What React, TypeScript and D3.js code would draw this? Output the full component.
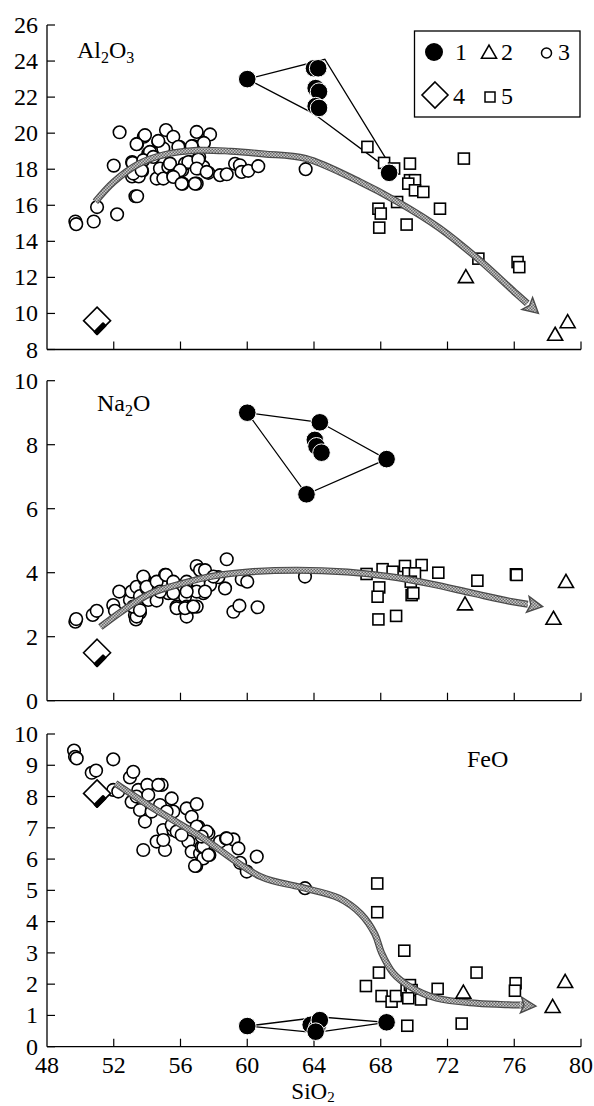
import React from "react";
import * as d3 from "d3";

type P = [number, number];

// ---------- X axis ----------
const X_TICKS = [48, 52, 56, 60, 64, 68, 72, 76, 80];

// ---------- Al2O3 panel ----------
const al_s1: P[] = [[60, 23], [64.0, 23.6], [64.25, 23.6], [64.1, 22.5], [64.3, 22.3], [64.1, 21.5], [64.3, 21.4], [68.5, 17.8]];
const al_hull: P[] = [[60, 23], [64.65, 24.1], [68.9, 17.7], [63.95, 21.1]];
const al_s2: P[] = [[73.1, 12.0], [78.45, 8.8], [79.2, 9.5]];
const al_s3: P[] = [
  [49.7, 15.1], [49.75, 14.95], [50.8, 15.1], [51.0, 15.9], [52.2, 15.5], [52.0, 18.2], [52.35, 20.05],
  [53.3, 16.5], [53.4, 16.5], [53.1, 17.6], [53.1, 18.4], [53.4, 19.4], [53.8, 19.8], [53.7, 17.9],
  [53.5, 17.6], [54.07, 18.87], [54.57, 17.48], [54.77, 18.04], [54.67, 19.52], [54.97, 17.48],
  [55.13, 20.17], [54.97, 19.15], [55.27, 18.13], [55.57, 19.8], [55.57, 17.67], [55.93, 19.24],
  [56.13, 17.2], [56.1, 17.94], [56.27, 18.31], [56.57, 18.4], [56.77, 19.28], [56.97, 20.07],
  [57.12, 18.68], [56.97, 17.2], [57.07, 18.04], [57.37, 19.43], [57.37, 18.13], [57.67, 17.8],
  [57.77, 19.93], [58.37, 17.67], [58.77, 17.72], [59.27, 18.3], [59.56, 18.22], [59.66, 17.85],
  [60.06, 17.91], [60.66, 18.17], [53.87, 19.89], [53.37, 19.39], [54.67, 19.57], [57.4, 19.46],
  [54.17, 18.96], [55.87, 19.24], [56.67, 19.28], [53.13, 18.35], [53.77, 18.5], [54.37, 18.68],
  [55.37, 18.31], [56.47, 18.4], [57.07, 18.54], [53.17, 17.76], [53.67, 17.94], [55.97, 17.94],
  [56.97, 18.04], [57.57, 17.85], [55.57, 17.57], [56.07, 17.2], [56.87, 17.2], [63.5, 18.0]
];
const al_s4: P[] = [[51.0, 9.6]];
const al_s5: P[] = [
  [67.2, 19.24], [68.2, 18.35], [68.8, 18.04], [69.75, 18.31], [72.98, 18.59], [69.75, 17.39],
  [70.05, 17.39], [69.65, 17.2], [70.05, 16.83], [70.55, 16.74], [68.98, 16.18], [71.55, 15.81],
  [67.86, 15.81], [68.0, 15.54], [67.91, 14.76], [69.55, 14.93], [73.85, 13.04], [76.2, 12.85], [76.3, 12.57]
];
const al_trend: P[] = [
  [50.9, 16.2], [52, 17.3], [53.5, 18.3], [55, 18.8], [57, 19.05], [59, 19.0], [61, 18.85], [63.5, 18.6],
  [66.75, 17.3], [69, 16.2], [71.5, 14.75], [73.8, 13.05], [76.0, 11.2], [77.45, 10.0]
];

// ---------- Na2O panel ----------
const na_s1: P[] = [[60, 9.0], [64.35, 8.7], [64.05, 8.15], [64.15, 7.95], [64.45, 7.75], [68.35, 7.55], [63.55, 6.45]];
const na_hull: P[] = [[60, 9.0], [64.35, 8.7], [68.35, 7.55], [63.55, 6.45]];
const na_s2: P[] = [[73.05, 3.0], [78.35, 2.55], [79.1, 3.7]];
const na_s3: P[] = [
  [49.7, 2.47], [49.75, 2.55], [50.74, 2.68], [50.98, 2.81], [51.97, 2.99], [52.07, 2.81], [52.33, 3.41],
  [52.97, 3.15], [53.07, 3.41], [53.27, 2.68], [53.33, 2.54], [53.57, 2.75], [53.37, 3.56], [53.57, 3.27],
  [53.87, 3.77], [53.97, 3.51], [54.07, 3.15], [54.57, 3.13], [54.47, 3.67], [55.07, 3.93], [55.27, 3.36],
  [55.57, 3.67], [55.77, 2.94], [56.17, 3.56], [56.27, 3.25], [56.37, 2.63], [56.37, 2.94], [56.67, 2.94],
  [56.97, 2.94], [56.97, 4.21], [57.17, 4.08], [57.47, 4.08], [56.97, 3.62], [57.37, 3.36], [57.77, 3.62],
  [58.27, 3.86], [58.67, 3.51], [58.77, 4.42], [59.17, 2.78], [59.53, 2.97], [59.67, 3.79], [60.0, 3.72],
  [60.62, 2.92], [53.77, 3.88], [53.97, 3.56], [54.57, 3.72], [55.13, 3.93], [55.57, 3.72], [54.77, 3.41],
  [55.57, 3.36], [56.37, 3.72], [57.07, 3.67], [56.97, 3.41], [57.47, 3.41], [56.37, 3.41], [55.77, 2.89],
  [56.27, 2.89], [56.77, 2.94], [57.97, 3.88], [53.37, 2.63], [53.17, 2.94], [53.57, 2.83], [63.46, 3.88]
];
const na_s4: P[] = [[51.0, 1.5]];
const na_s5: P[] = [
  [67.15, 3.96], [68.11, 4.11], [68.71, 4.03], [69.45, 4.21], [70.45, 4.24], [69.65, 3.98], [70.05, 3.98],
  [71.45, 4.0], [67.91, 3.54], [67.81, 3.25], [69.8, 3.72], [69.85, 3.3], [69.95, 3.36], [73.79, 3.75],
  [76.1, 3.95], [76.14, 3.93], [67.86, 2.54], [68.92, 2.65]
];
const na_trend: P[] = [
  [51.2, 2.3], [52.5, 2.8], [54.2, 3.35], [56, 3.65], [58, 3.9], [60.2, 4.03], [63, 4.08], [66, 4.02],
  [68.5, 3.88], [71, 3.65], [73.5, 3.36], [75.8, 3.1], [77.7, 2.94]
];

// ---------- FeO panel ----------
const fe_s1: P[] = [[60, 0.66], [63.8, 0.7], [64.2, 0.62], [64.35, 0.85], [64.1, 0.48], [68.35, 0.78]];
const fe_hull: P[] = [[60, 0.66], [64.4, 0.95], [68.35, 0.78], [64.06, 0.45]];
const fe_s2: P[] = [[72.95, 1.72], [78.3, 1.26], [79.05, 2.06]];
const fe_s3: P[] = [
  [49.62, 9.47], [49.68, 9.27], [49.78, 9.22], [50.68, 8.76], [50.94, 8.83], [51.97, 9.19], [51.97, 8.21],
  [52.27, 8.16], [52.97, 8.61], [53.17, 8.79], [53.07, 7.83], [53.77, 6.29], [53.57, 7.57], [53.87, 7.2],
  [53.97, 8.31], [54.57, 6.56], [54.87, 8.37], [54.97, 6.93], [55.07, 6.29], [55.47, 7.94], [55.57, 7.52],
  [55.57, 6.93], [56.37, 7.62], [56.47, 6.56], [56.67, 7.35], [56.97, 7.76], [56.67, 6.24], [56.94, 5.78],
  [57.07, 7.03], [57.17, 6.18], [57.37, 6.02], [57.27, 6.4], [57.67, 6.82], [57.73, 6.13], [58.37, 6.56],
  [58.73, 6.66], [59.17, 6.63], [59.47, 6.34], [59.57, 5.88], [59.97, 5.6], [60.57, 6.08], [53.47, 8.21],
  [54.01, 8.37], [54.67, 8.37], [53.37, 8.0], [54.07, 8.05], [54.77, 7.73], [54.27, 7.52], [55.17, 7.52],
  [55.47, 7.09], [55.77, 6.88], [56.97, 7.04], [56.07, 6.77], [54.97, 6.61], [57.57, 6.88], [57.37, 6.4],
  [57.67, 6.13], [56.87, 5.78], [58.77, 6.66], [57.27, 6.72], [63.46, 5.07]
];
const fe_s4: P[] = [[51.0, 8.1]];
const fe_s5: P[] = [
  [67.79, 5.22], [67.79, 4.3], [69.41, 3.07], [67.89, 2.37], [67.11, 1.94], [68.05, 1.62], [68.65, 1.44],
  [68.91, 1.62], [69.55, 1.81], [69.75, 1.97], [69.85, 1.81], [69.65, 1.55], [70.41, 1.51], [71.41, 1.85],
  [73.74, 2.37], [76.08, 2.03], [76.04, 1.79], [69.59, 0.67], [72.85, 0.74]
];
const fe_trend: P[] = [
  [52.1, 8.42], [54.2, 7.68], [57.2, 6.72], [60.8, 5.44], [63.2, 5.1], [65.5, 4.75], [66.8, 4.25],
  [67.65, 3.6], [68.05, 3.0], [68.75, 2.35], [69.75, 1.92], [71.35, 1.55], [73.75, 1.39], [76.5, 1.33], [77.3, 1.3]
];

const FONT = "'Liberation Serif', 'Times New Roman', Times, serif";
const xScale = d3.scaleLinear().domain([48, 80]).range([47, 581]);

type Panel = {
  key: string;
  yDomain: [number, number];
  yRange: [number, number];
  yTicks: number[];
  label: { sub: string[]; x: number; y: number };
  s1: P[]; hull: P[]; s2: P[]; s3: P[]; s4: P[]; s5: P[]; trend: P[];
  showXLabels: boolean;
};

const panels: Panel[] = [
  { key: "al", yDomain: [8, 26], yRange: [349.5, 25], yTicks: d3.range(8, 27, 2),
    label: { sub: ["Al", "2", "O", "3"], x: 77, y: 58 },
    s1: al_s1, hull: al_hull, s2: al_s2, s3: al_s3, s4: al_s4, s5: al_s5, trend: al_trend, showXLabels: false },
  { key: "na", yDomain: [0, 10], yRange: [700.7, 380.7], yTicks: d3.range(0, 11, 2),
    label: { sub: ["Na", "2", "O"], x: 97, y: 411 },
    s1: na_s1, hull: na_hull, s2: na_s2, s3: na_s3, s4: na_s4, s5: na_s5, trend: na_trend, showXLabels: false },
  { key: "fe", yDomain: [0, 10], yRange: [1046.7, 734], yTicks: d3.range(0, 11, 1),
    label: { sub: ["FeO"], x: 467, y: 767 },
    s1: fe_s1, hull: fe_hull, s2: fe_s2, s3: fe_s3, s4: fe_s4, s5: fe_s5, trend: fe_trend, showXLabels: true },
];

function Diamond({ cx, cy, r }: { cx: number; cy: number; r: number }) {
  const pts = [[cx, cy - r], [cx + r, cy], [cx, cy + r], [cx - r, cy]];
  // thick black shading along the lower-right edge
  const a = [cx + r * 0.62, cy + r * 0.38];
  const b = [cx, cy + r];
  const shade = [
    a, b, [b[0] - 2.4, b[1] - 2.4], [a[0] - 2.4, a[1] - 2.4],
  ];
  return (
    <g>
      <polygon points={pts.map((p) => p.join(",")).join(" ")} fill="#fff" stroke="#000" strokeWidth={1.6} />
      <polygon points={shade.map((p) => p.join(",")).join(" ")} fill="#000" stroke="#000" strokeWidth={2.2} strokeLinejoin="round" />
    </g>
  );
}

function Triangle({ cx, cy, s }: { cx: number; cy: number; s: number }) {
  const h = s * 0.87;
  const pts = [[cx, cy - h * 0.6], [cx + s / 2, cy + h * 0.4], [cx - s / 2, cy + h * 0.4]];
  return <polygon points={pts.map((p) => p.join(",")).join(" ")} fill="#fff" stroke="#000" strokeWidth={1.6} />;
}

function Trend({ pts }: { pts: [number, number][] }) {
  const n = pts.length;
  const tip = pts[n - 1];
  const prev = pts[n - 2];
  const dx = tip[0] - prev[0], dy = tip[1] - prev[1];
  const len = Math.hypot(dx, dy);
  const ux = dx / len, uy = dy / len;
  const headLen = 15, headW = 8;
  const base: [number, number] = [tip[0] - ux * headLen, tip[1] - uy * headLen];
  const body = [...pts.slice(0, n - 1), base];
  const line = d3.line<[number, number]>().curve(d3.curveCatmullRom.alpha(0.5));
  const d = line(body) || "";
  const px = -uy, py = ux;
  const head = [
    [tip[0], tip[1]],
    [base[0] + px * headW, base[1] + py * headW],
    [base[0] + ux * 3, base[1] + uy * 3],
    [base[0] - px * headW, base[1] - py * headW],
  ];
  return (
    <g>
      <path d={d} fill="none" stroke="#4a4a4a" strokeWidth={7} />
      <path d={d} fill="none" stroke="url(#hatch)" strokeWidth={4.6} />
      <polygon points={head.map((p) => p.join(",")).join(" ")} fill="url(#hatch)" stroke="#4a4a4a" strokeWidth={1.4} />
    </g>
  );
}

function PanelView({ p }: { p: Panel }) {
  const y = d3.scaleLinear().domain(p.yDomain).range(p.yRange);
  const x0 = xScale(48);
  const yb = p.yRange[0];
  const toPx = (d: P): [number, number] => [xScale(d[0]), y(d[1])];
  const hullPts = p.hull.map(toPx);
  return (
    <g>
      {/* axes */}
      <line x1={x0} y1={p.yRange[1]} x2={x0} y2={yb} stroke="#000" strokeWidth={1.3} />
      <line x1={x0} y1={yb} x2={xScale(80)} y2={yb} stroke="#000" strokeWidth={1.3} />
      {p.yTicks.map((t) => (
        <g key={"yt" + t}>
          <line x1={x0} x2={x0 + 8} y1={y(t)} y2={y(t)} stroke="#000" strokeWidth={1.2} />
          <text x={38} y={y(t) + 8} textAnchor="end" fontSize={24} fontFamily={FONT}>{t}</text>
        </g>
      ))}
      {X_TICKS.filter((t) => t !== 48).map((t) => (
        <line key={"xt" + t} x1={xScale(t)} x2={xScale(t)} y1={yb} y2={yb - 8} stroke="#000" strokeWidth={1.2} />
      ))}
      {p.showXLabels && X_TICKS.map((t) => (
        <text key={"xl" + t} x={xScale(t)} y={yb + 26.5} textAnchor="middle" fontSize={24} fontFamily={FONT}>{t}</text>
      ))}
      {/* label */}
      <text x={p.label.x} y={p.label.y} fontSize={24} fontFamily={FONT}>
        {p.label.sub.map((s, i) =>
          i % 2 === 1 ? (
            <tspan key={i} fontSize={16} dy={5}>{s}</tspan>
          ) : (
            <tspan key={i} dy={i === 0 ? 0 : -5}>{s}</tspan>
          )
        )}
      </text>
      {/* hull */}
      <polygon points={hullPts.map((q) => q.join(",")).join(" ")} fill="none" stroke="#000" strokeWidth={1.3} />
      {/* series 3 circles */}
      {p.s3.map((d, i) => (
        <circle key={"c3" + i} cx={xScale(d[0])} cy={y(d[1])} r={6.3} fill="#fff" stroke="#000" strokeWidth={1.6} />
      ))}
      {/* series 5 squares */}
      {p.s5.map((d, i) => (
        <rect key={"s5" + i} x={xScale(d[0]) - 5.5} y={y(d[1]) - 5.5} width={11} height={11} fill="#fff" stroke="#000" strokeWidth={1.6} />
      ))}
      {/* trend arrow */}
      <Trend pts={p.trend.map(toPx)} />
      {/* series 2 triangles */}
      {p.s2.map((d, i) => (
        <Triangle key={"t2" + i} cx={xScale(d[0])} cy={y(d[1])} s={15} />
      ))}
      {/* series 4 diamond */}
      {p.s4.map((d, i) => (
        <Diamond key={"d4" + i} cx={xScale(d[0])} cy={y(d[1])} r={13.5} />
      ))}
      {/* series 1 filled circles */}
      {p.s1.map((d, i) => (
        <circle key={"c1" + i} cx={xScale(d[0])} cy={y(d[1])} r={8.8} fill="#000" stroke="#fff" strokeWidth={1} />
      ))}
    </g>
  );
}

function Legend() {
  return (
    <g fontFamily={FONT} fontSize={24}>
      <rect x={414.5} y={31} width={165.5} height={86} fill="#fff" stroke="#000" strokeWidth={1.3} />
      <circle cx={434} cy={52} r={9} fill="#000" />
      <text x={455} y={60}>1</text>
      <Triangle cx={489} cy={53} s={15} />
      <text x={501} y={60}>2</text>
      <circle cx={546.5} cy={53} r={5} fill="#fff" stroke="#000" strokeWidth={1.5} />
      <text x={558} y={60}>3</text>
      <polygon points="435,82 448,95 435,108 422,95" fill="#fff" stroke="#000" strokeWidth={1.6} />
      <text x={453} y={104}>4</text>
      <rect x={485} y={92} width={10} height={10} fill="#fff" stroke="#000" strokeWidth={1.5} />
      <text x={501} y={104}>5</text>
    </g>
  );
}

export default function App() {
  return (
    <svg width={594} height={1106} style={{ position: "absolute", left: 0, top: 0, background: "#fff" }}>
      <defs>
        <pattern id="hatch" width={3} height={3} patternUnits="userSpaceOnUse">
          <rect width={3} height={3} fill="#c8c8c8" />
          <rect width={1.5} height={1.5} fill="#6a6a6a" />
          <rect x={1.5} y={1.5} width={1.5} height={1.5} fill="#6a6a6a" />
        </pattern>
      </defs>
      <rect width={594} height={1106} fill="#fff" />
      {panels.map((p) => (
        <PanelView key={p.key} p={p} />
      ))}
      <Legend />
      <text x={313} y={1098.5} textAnchor="middle" fontSize={23} fontFamily={FONT}>
        SiO<tspan fontSize={15} dy={3}>2</tspan>
      </text>
    </svg>
  );
}
